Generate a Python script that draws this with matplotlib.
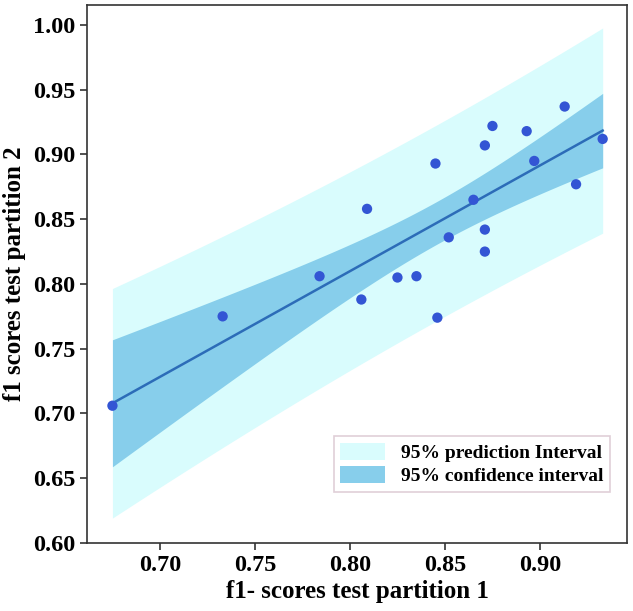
import numpy as np
import matplotlib
matplotlib.use("Agg")
import matplotlib.pyplot as plt
from matplotlib.patches import Patch

# Data
f1_partition1 = [0.913, 0.875, 0.893, 0.933, 0.871, 0.845, 0.897, 0.919, 0.809, 0.865,
                 0.871, 0.852, 0.871, 0.784, 0.825, 0.835, 0.806, 0.733, 0.846, 0.675]
f1_partition2 = [0.937, 0.922, 0.918, 0.912, 0.907, 0.893, 0.895, 0.877, 0.858, 0.865,
                 0.842, 0.836, 0.825, 0.806, 0.805, 0.806, 0.788, 0.775, 0.774, 0.706]
x_ticks = [0.70, 0.75, 0.80, 0.85, 0.90]
y_ticks = [0.60, 0.65, 0.70, 0.75, 0.80, 0.85, 0.90, 0.95, 1.00]
legend_labels = ["95% prediction Interval", "95% confidence interval"]
t_975_df18 = 2.101  # Student t quantile, 95% two-sided, n-2 = 18 d.o.f.

plt.rcParams['font.family'] = ['Liberation Serif', 'DejaVu Serif']
plt.rcParams['font.weight'] = 'bold'

x = np.array(f1_partition1)
y = np.array(f1_partition2)
n = len(x)
slope, intercept = np.polyfit(x, y, 1)
resid = y - (slope * x + intercept)
s = np.sqrt(np.sum(resid ** 2) / (n - 2))
xbar = x.mean()
sxx = np.sum((x - xbar) ** 2)
xg = np.linspace(x.min(), x.max(), 200)
yg = slope * xg + intercept
ci = t_975_df18 * s * np.sqrt(1 / n + (xg - xbar) ** 2 / sxx)
pi = t_975_df18 * s * np.sqrt(1 + 1 / n + (xg - xbar) ** 2 / sxx)

fig = plt.figure(figsize=(6.33, 6.11), dpi=100)
ax = fig.add_axes([0.1374, 0.1113, 0.8531, 0.8805])

pi_color = '#d9fcfd'
ci_color = '#87ceeb'
ax.fill_between(xg, yg - pi, yg + pi, color=pi_color, lw=0, zorder=1)
ax.fill_between(xg, yg - ci, yg + ci, color=ci_color, lw=0, zorder=2)
ax.plot(xg, yg, color='#2c6cb8', lw=1.8, zorder=3)
ax.scatter(x, y, s=55, color='#3355d4', zorder=4, edgecolors='none')

ax.set_xlim(0.6616, 0.9458)
ax.set_ylim(0.600, 1.0154)
ax.set_xticks(x_ticks)
ax.set_xticklabels([f"{v:.2f}" for v in x_ticks])
ax.set_yticks(y_ticks)
ax.set_yticklabels([f"{v:.2f}" for v in y_ticks])
ax.tick_params(labelsize=17.5, length=5, width=1.2, color='#333333')
for lab in ax.get_xticklabels() + ax.get_yticklabels():
    lab.set_fontweight('bold')
for sp in ax.spines.values():
    sp.set_color('#333333')
    sp.set_linewidth(1.2)

ax.set_xlabel("f1- scores test partition 1", fontsize=18, fontweight='bold', labelpad=3)
ax.set_ylabel("f1 scores test partition 2", fontsize=18, fontweight='bold', labelpad=5)

handles = [Patch(facecolor=pi_color, edgecolor='none'),
           Patch(facecolor=ci_color, edgecolor='none')]
leg = ax.legend(handles, legend_labels, loc='lower right', bbox_to_anchor=(0.9685, 0.0948),
                prop={'size': 14, 'weight': 'bold', 'family': 'Liberation Serif'},
                fancybox=False, framealpha=1, edgecolor='#e0cfd8',
                handlelength=2.3, handleheight=1.0, borderpad=0.35, labelspacing=0.2,
                handletextpad=0.8, borderaxespad=0)
leg.get_frame().set_linewidth(1.2)

fig.savefig("out.png", dpi=100)
